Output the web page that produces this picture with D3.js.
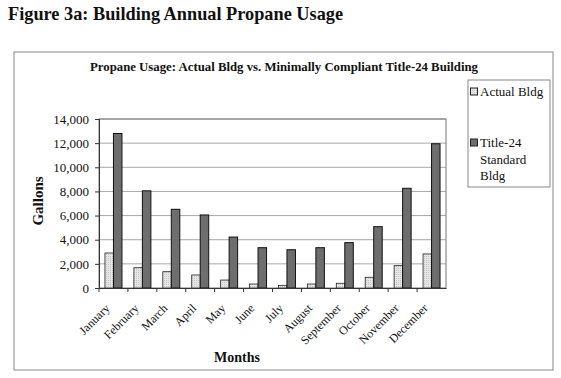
<!doctype html>
<html lang="en">
<head>
    <meta charset="utf-8">
    <title>Propane Usage</title>
    <style type="text/css">
        html, body {
            margin: 0;
            padding: 0;
            width: 561px;
            height: 378px;
            background-color: #fff;
            overflow: hidden;
        }
        text {
            font-family: "Liberation Serif", "DejaVu Serif", serif;
            fill: #111;
        }
    </style>
</head>
<body>
    <svg id="container" width="561" height="378"></svg>

    <script src="https://cdn.jsdelivr.net/npm/d3@7"></script>
    <script>
        const months = ["January", "February", "March", "April", "May", "June",
                        "July", "August", "September", "October", "November", "December"];
        const actual = [2900, 1680, 1350, 1080, 660, 330, 220, 330, 390, 890, 1850, 2820];
        const title24 = [12800, 8050, 6520, 6050, 4220, 3340, 3170, 3340, 3760, 5080, 8260, 11950];
        const yTicks = [0, 2000, 4000, 6000, 8000, 10000, 12000, 14000];

        let svg = d3.select("#container");
        const plot = {left: 99, right: 446, top: 119, bottom: 288};

        // figure heading
        svg.append("text")
            .attr("x", 8).attr("y", 20)
            .style("font-size", "18.3px").style("font-weight", "bold")
            .text("Figure 3a: Building Annual Propane Usage");

        // outer chart frame
        svg.append("rect")
            .attr("x", 14).attr("y", 52).attr("width", 539).attr("height", 318)
            .attr("fill", "none").attr("stroke", "#888").attr("stroke-width", 1);

        svg.append("text")
            .attr("x", 284).attr("y", 71)
            .attr("text-anchor", "middle")
            .style("font-size", "11.5px").style("font-weight", "bold")
            .attr("textLength", 388).attr("lengthAdjust", "spacingAndGlyphs")
            .text("Propane Usage: Actual Bldg vs. Minimally Compliant Title-24 Building");

        let x = d3.scaleBand().domain(months).range([plot.left, plot.right]);
        let y = d3.scaleLinear().domain([0, 14000]).range([plot.bottom, plot.top]);

        // gridlines
        svg.append("g").selectAll("line")
            .data(yTicks.filter(d => d > 0))
            .enter().append("line")
            .attr("x1", plot.left).attr("x2", plot.right)
            .attr("y1", d => y(d)).attr("y2", d => y(d))
            .attr("stroke", "#a8a8a8").attr("stroke-width", 1);

        // plot frame
        svg.append("rect")
            .attr("x", plot.left).attr("y", plot.top)
            .attr("width", plot.right - plot.left).attr("height", plot.bottom - plot.top)
            .attr("fill", "none").attr("stroke", "#777");

        // dotted fill for actual bars
        let defs = svg.append("defs");
        let pat = defs.append("pattern")
            .attr("id", "dots").attr("width", 2).attr("height", 2)
            .attr("patternUnits", "userSpaceOnUse");
        pat.append("rect").attr("width", 2).attr("height", 2).attr("fill", "#e6e6e6");
        pat.append("rect").attr("width", 1).attr("height", 1).attr("fill", "#c4c4c4");

        const barW = 8.5;
        let pairs = months.map((m, i) => ({m: m, a: actual[i], t: title24[i]}));

        svg.append("g").selectAll("rect")
            .data(pairs)
            .enter().append("rect")
            .attr("x", d => x(d.m) + x.bandwidth() / 2 - barW)
            .attr("y", d => y(d.a))
            .attr("width", barW)
            .attr("height", d => plot.bottom - y(d.a))
            .attr("fill", "url(#dots)").attr("stroke", "#222").attr("stroke-width", 0.8);

        svg.append("g").selectAll("rect")
            .data(pairs)
            .enter().append("rect")
            .attr("x", d => x(d.m) + x.bandwidth() / 2)
            .attr("y", d => y(d.t))
            .attr("width", barW)
            .attr("height", d => plot.bottom - y(d.t))
            .attr("fill", "#6e6e6e").attr("stroke", "#111").attr("stroke-width", 1);

        // y axis
        let yAxis = svg.append("g")
            .attr("transform", `translate(${plot.left},0)`)
            .call(d3.axisLeft(y).tickValues(yTicks).tickSize(4).tickFormat(d3.format(",")));
        yAxis.select(".domain").attr("stroke", "#333");
        yAxis.selectAll(".tick line").attr("stroke", "#333");
        yAxis.selectAll("text")
            .style("font-family", "'Liberation Serif', serif")
            .style("font-size", "13px").attr("fill", "#111").attr("x", -10);

        // x axis
        let xAxis = svg.append("g")
            .attr("transform", `translate(0,${plot.bottom})`)
            .call(d3.axisBottom(x).tickSize(4).tickSizeOuter(0));
        xAxis.select(".domain").attr("stroke", "#333");
        xAxis.selectAll(".tick line")
            .attr("transform", `translate(${-x.bandwidth() / 2},0)`)
            .attr("stroke", "#333");
        xAxis.selectAll("text")
            .style("font-family", "'Liberation Serif', serif")
            .style("font-size", "12px").attr("fill", "#111")
            .attr("text-anchor", "end")
            .attr("dy", null).attr("y", 0)
            .attr("transform", "translate(-3,21) rotate(-45)");

        // axis titles
        svg.append("text")
            .attr("transform", "translate(43,201) rotate(-90)")
            .attr("text-anchor", "middle")
            .style("font-size", "15px").style("font-weight", "bold")
            .text("Gallons");

        svg.append("text")
            .attr("x", 237).attr("y", 362)
            .attr("text-anchor", "middle")
            .style("font-size", "14px").style("font-weight", "bold")
            .text("Months");

        // legend
        svg.append("rect")
            .attr("x", 468).attr("y", 80).attr("width", 82).attr("height", 107)
            .attr("fill", "none").attr("stroke", "#888");

        const legend = [
            {lines: ["Actual Bldg"], fill: "url(#dots)", y: 96},
            {lines: ["Title-24", "Standard", "Bldg"], fill: "#6e6e6e", y: 147}
        ];
        let items = svg.append("g").selectAll("g").data(legend).enter().append("g");
        items.append("rect")
            .attr("x", 470.5).attr("y", d => d.y - 8).attr("width", 7).attr("height", 7)
            .attr("fill", d => d.fill).attr("stroke", "#222");
        items.append("text")
            .attr("x", 480).attr("y", d => d.y)
            .style("font-size", "13px")
            .selectAll("tspan").data(d => d.lines).enter().append("tspan")
            .attr("x", 480).attr("dy", (d, i) => i === 0 ? 0 : 16.5)
            .text(d => d);
    </script>
</body>
</html>
